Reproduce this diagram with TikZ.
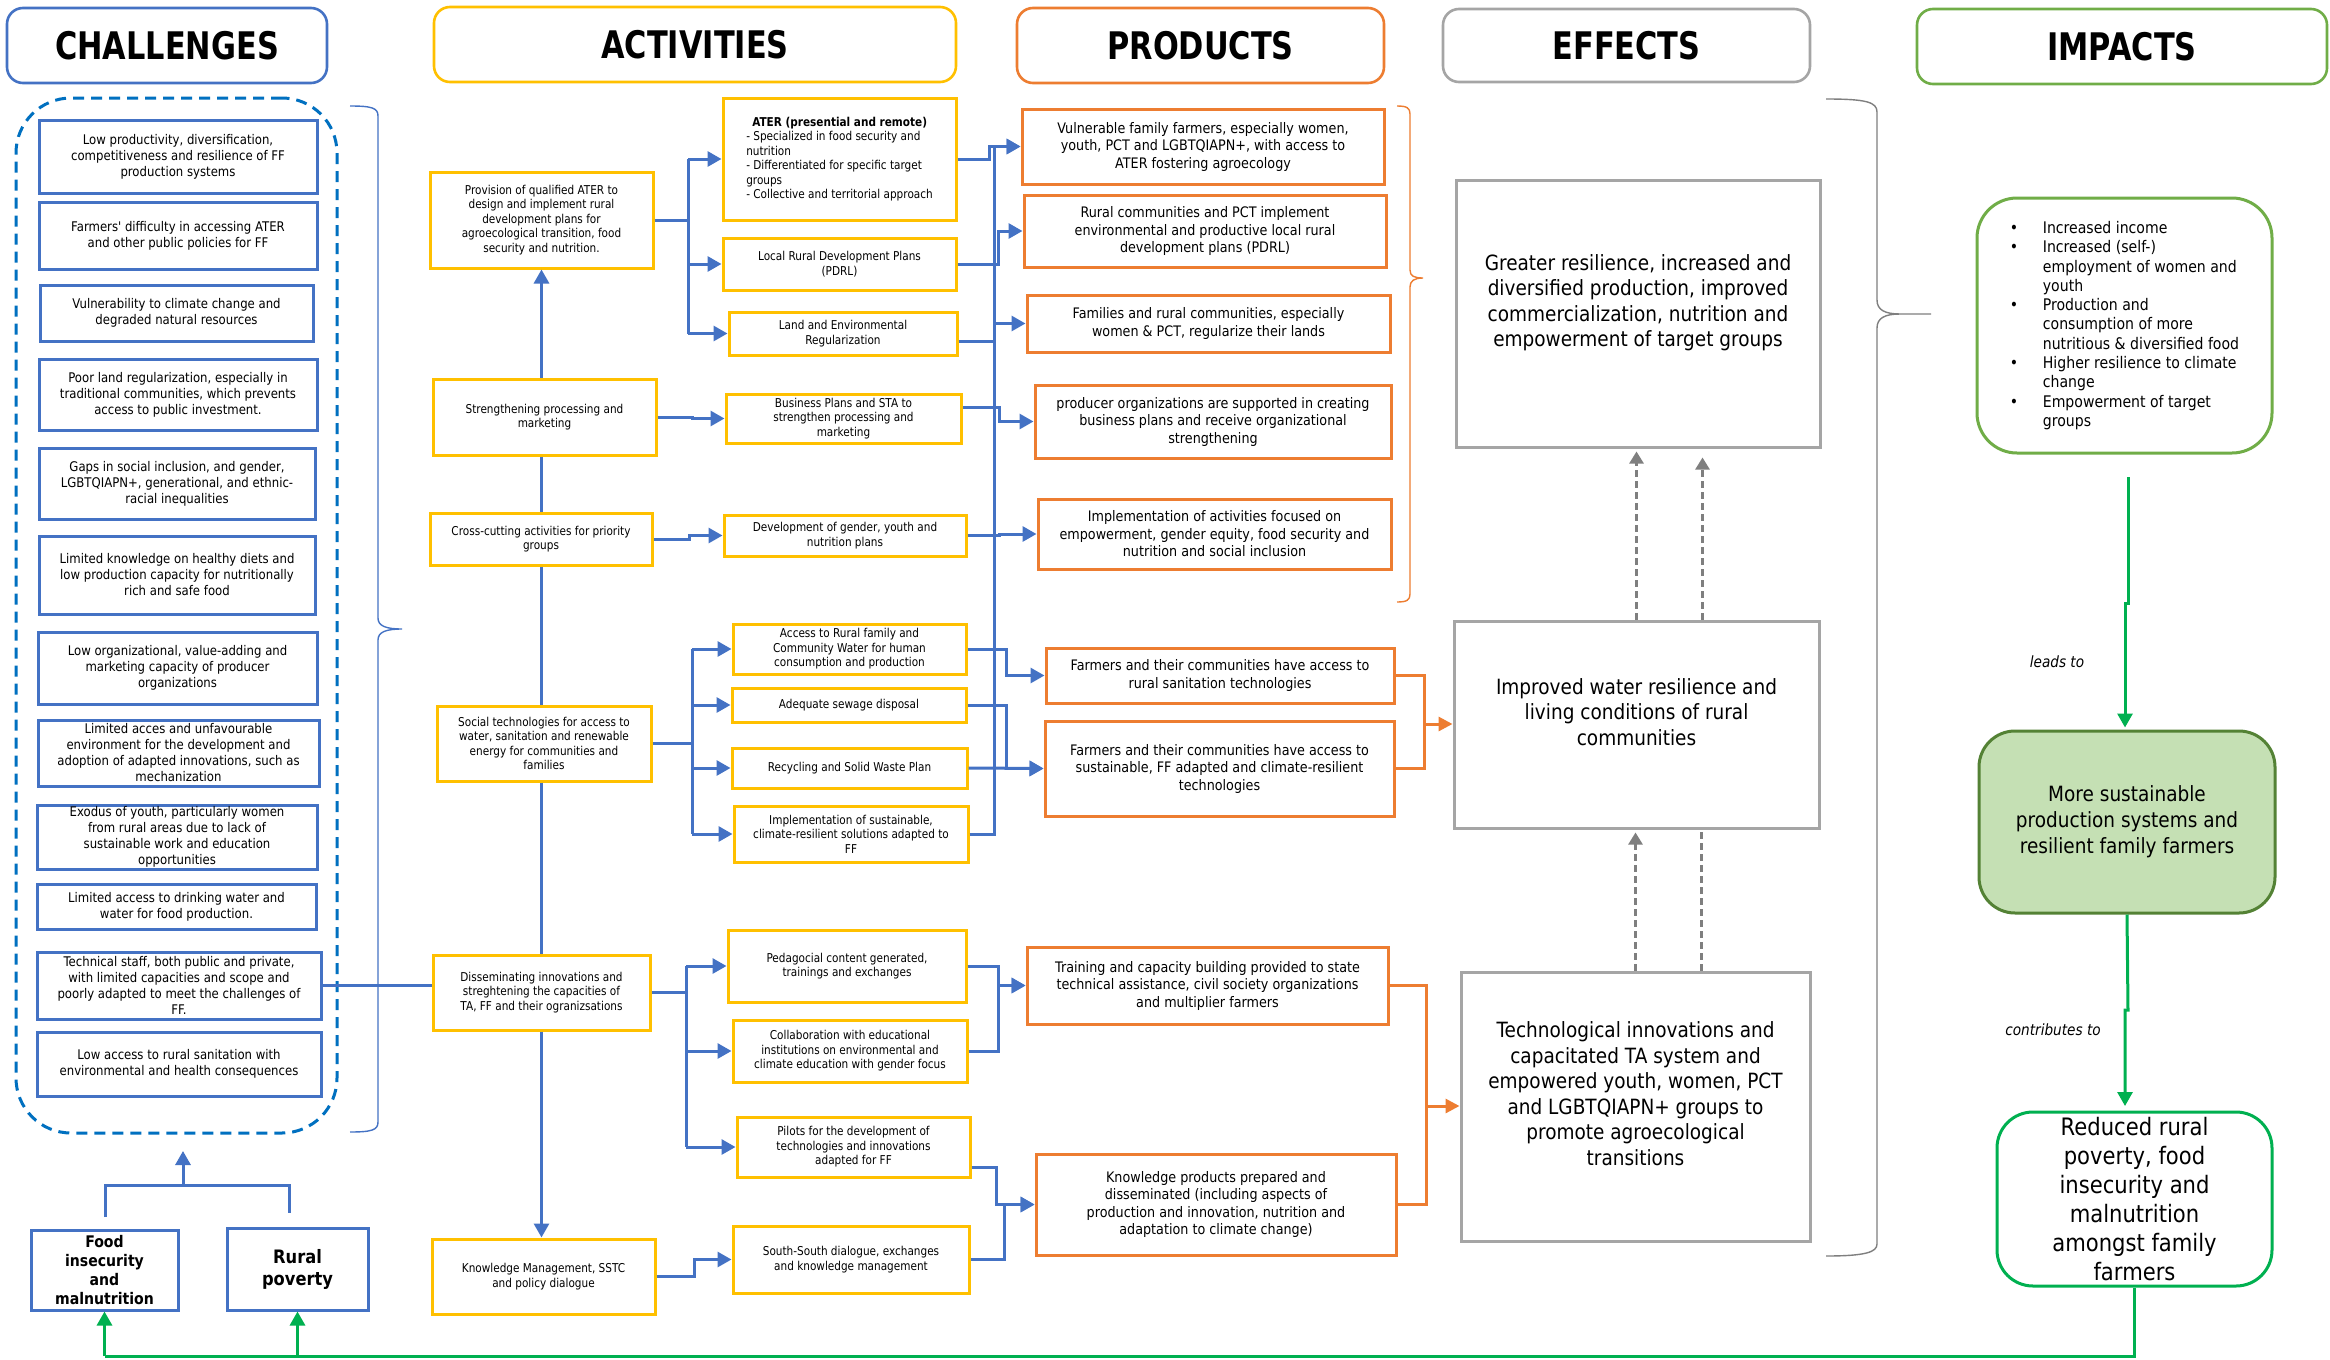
\documentclass[tikz,border=0pt]{standalone}
\usepackage{fontspec}
\usetikzlibrary{arrows.meta,calc}
\newfontfamily\vf[FakeStretch=0.88]{DejaVu Sans}
\newfontfamily\tf[FakeStretch=0.86]{DejaVu Sans}
\newfontfamily\hf[FakeStretch=0.8]{DejaVu Sans}
\definecolor{cblue}{HTML}{4472C4}
\definecolor{cdash}{HTML}{0070C0}
\definecolor{cgold}{HTML}{FFC000}
\definecolor{corange}{HTML}{ED7D31}
\definecolor{cgray}{HTML}{A5A5A5}
\definecolor{cdgray}{HTML}{7F7F7F}
\definecolor{cgreen}{HTML}{00B050}
\definecolor{clgreen}{HTML}{70AD47}
\definecolor{cfill}{HTML}{C5E0B4}
\definecolor{cdgreen}{HTML}{548235}
\newcommand\B[7]{\node[#1,minimum width={#4-#2},minimum height={#5-#3}] (#6) at ({(#2+#4)/2},{(#3+#5)/2}) {#7};}
\tikzset{
  hdr/.style={draw, line width=2.6pt, rounded corners=16pt, inner sep=0pt, font=\hf\bfseries\fontsize{38}{40}\selectfont},
  chal/.style={draw=cblue, line width=3pt, align=center, inner sep=0pt, font=\vf\fontsize{13.3}{16}\selectfont},
  act/.style={draw=cgold, line width=3pt, align=center, inner sep=0pt, font=\tf\fontsize{12.2}{14.5}\selectfont},
  prod/.style={draw=corange, line width=3pt, align=center, inner sep=0pt, font=\vf\fontsize{14.5}{17.5}\selectfont},
  eff/.style={draw=cgray, line width=3pt, align=center, inner sep=0pt, font=\vf\fontsize{21}{25.5}\selectfont},
  bl/.style={draw=cblue, line width=3pt},
  barr/.style={draw=cblue, line width=3pt, -{Triangle[length=14pt,width=15pt]}},
  ol/.style={draw=corange, line width=3pt},
  oarr/.style={draw=corange, line width=3pt, -{Triangle[length=14pt,width=14pt]}},
  gdash/.style={draw=cdgray, line width=2.5pt, dash pattern=on 7pt off 4pt},
  garr/.style={gdash, -{Triangle[length=12pt,width=14pt]}},
  grn/.style={draw=cgreen, line width=3pt},
  grnarr/.style={draw=cgreen, line width=3pt, -{Triangle[length=14pt,width=15pt]}},
  lbl/.style={font=\vf\itshape\fontsize{15.5}{18}\selectfont, inner sep=0pt},
}
\begin{document}
\begin{tikzpicture}[x=1pt,y=-1pt]
\useasboundingbox (0,0) rectangle (2330,1360);
\fill[white] (0,0) rectangle (2330,1360);

% headers
\B{hdr,draw=cblue}{7}{8}{327}{83}{hchal}{CHALLENGES}
\B{hdr,draw=cgold}{434}{7}{956}{82}{hact}{ACTIVITIES}
\B{hdr,draw=corange}{1017}{8}{1384}{83}{hprod}{PRODUCTS}
\B{hdr,draw=cgray}{1443}{9}{1810}{82}{heff}{EFFECTS}
\B{hdr,draw=clgreen}{1917}{9}{2327}{84}{himp}{IMPACTS}

% challenges
\B{draw=cdash, line width=3pt, dash pattern=on 11pt off 7pt, rounded corners=55pt}{16}{98}{337}{1133}{chalgroup}{}
\B{chal}{39}{120}{317}{193}{c1}{Low productivity, diversification,\\competitiveness and resilience of FF\\production systems}
\B{chal}{39}{202}{317}{269}{c2}{Farmers' difficulty in accessing ATER\\and other public policies for FF}
\B{chal}{40}{285}{313}{341}{c3}{Vulnerability to climate change and\\degraded natural resources}
\B{chal}{39}{359}{317}{430}{c4}{Poor land regularization, especially in\\traditional communities, which prevents\\access to public investment.}
\B{chal}{39}{448}{315}{519}{c5}{Gaps in social inclusion, and gender,\\LGBTQIAPN+, generational, and ethnic-\\racial inequalities}
\B{chal}{39}{536}{315}{614}{c6}{Limited knowledge on healthy diets and\\low production capacity for nutritionally\\rich and safe food}
\B{chal}{38}{632}{317}{704}{c7}{Low organizational, value-adding and\\marketing capacity of producer\\organizations}
\B{chal}{38}{720}{319}{786}{c8}{Limited acces and unfavourable\\environment for the development and\\adoption of adapted innovations, such as\\mechanization}
\B{chal}{37}{805}{317}{869}{c9}{Exodus of youth, particularly women\\from rural areas due to lack of\\sustainable work and education\\opportunities}
\B{chal}{37}{884}{316}{929}{c10}{Limited access to drinking water and\\water for food production.}
\B{chal}{37}{952}{321}{1019}{c11}{Technical staff, both public and private,\\with limited capacities and scope and\\poorly adapted to meet the challenges of\\FF.}
\B{chal}{37}{1032}{321}{1096}{c12}{Low access to rural sanitation with\\environmental and health consequences}

\draw[cblue, line width=1.4pt] (350,106) .. controls (372,106) and (378,108) .. (378,116) -- (378,618) .. controls (378,626) and (386,629) .. (402,629) .. controls (386,629) and (378,632) .. (378,640) -- (378,1122) .. controls (378,1130) and (372,1132) .. (350,1132);

\B{chal,font=\vf\bfseries\fontsize{16}{19}\selectfont}{31}{1230}{178}{1310}{food}{Food\\insecurity\\and\\malnutrition}
\B{chal,font=\vf\bfseries\fontsize{18.5}{22}\selectfont}{227}{1228}{368}{1310}{rural}{Rural\\poverty}
\coordinate (bj) at (183,1185);
\draw[bl] (105,1217) -- (105,1185) -- (289,1185) -- (289,1213);
\draw[barr] (bj) -- (183,1151);

% activities
\B{act}{430}{172}{653}{268}{a1}{Provision of qualified ATER to\\design and implement rural\\development plans for\\agroecological transition, food\\security and nutrition.}
\B{act,align=left}{723}{98}{956}{220}{ater}{\hspace*{6pt}\textbf{ATER (presential and remote)}\\- Specialized in food security and\\nutrition\\- Differentiated for specific target\\groups\\- Collective and territorial approach}
\B{act}{723}{238}{956}{290}{pdrl}{Local Rural Development Plans\\(PDRL)}
\B{act}{729}{312}{957}{355}{land}{Land and Environmental\\Regularization}
\B{act}{433}{379}{656}{455}{a2}{Strengthening processing and\\marketing}
\B{act}{726}{394}{961}{443}{bp}{Business Plans and STA to\\strengthen processing and\\marketing}
\B{act}{430}{513}{652}{565}{a3}{Cross-cutting activities for priority\\groups}
\B{act}{724}{515}{966}{556}{gender}{Development of gender, youth and\\nutrition plans}
\B{act}{437}{706}{651}{781}{a4}{Social technologies for access to\\water, sanitation and renewable\\energy for communities and\\families}
\B{act}{733}{624}{966}{674}{water}{Access to Rural family and\\Community Water for human\\consumption and production}
\B{act}{732}{688}{966}{722}{sewage}{Adequate sewage disposal}
\B{act}{732}{748}{967}{788}{recyc}{Recycling and Solid Waste Plan}
\B{act}{734}{806}{968}{862}{impl}{Implementation of sustainable,\\climate-resilient solutions adapted to\\FF}
\B{act}{433}{955}{650}{1030}{a5}{Disseminating innovations and\\streghtening the capacities of\\TA, FF and their ogranizsations}
\B{act}{728}{930}{966}{1002}{ped}{Pedagocial content generated,\\trainings and exchanges}
\B{act}{733}{1020}{967}{1082}{collab}{Collaboration with educational\\institutions on environmental and\\climate education with gender focus}
\B{act}{737}{1117}{970}{1177}{pilots}{Pilots for the development of\\technologies and innovations\\adapted for FF}
\B{act}{432}{1239}{655}{1314}{a6}{Knowledge Management, SSTC\\and policy dialogue}
\B{act}{733}{1226}{969}{1293}{ss}{South-South dialogue, exchanges\\and knowledge management}

% spine
\draw[barr] (a1.south |- a2.north) -- (a1.south);
\draw[bl] (a1.south |- a2.south) -- (a1.south |- a3.north);
\draw[bl] (a1.south |- a3.south) -- (a1.south |- a4.north);
\draw[bl] (a1.south |- a4.south) -- (a1.south |- a5.north);
\draw[barr] (a5.south) -- (a5.south |- a6.north);
\draw[bl] (c11.east) -- (c11.east -| a5.west);

% forks
\coordinate (k1) at (688,220);
\draw[bl] (a1.east) -- (k1);
\draw[bl] (k1 |- ater.west) -- (k1 |- land.west);
\draw[barr] (k1 |- ater.west) -- (ater.west);
\draw[barr] (k1 |- pdrl.west) -- (pdrl.west);
\draw[barr] (k1 |- land.west) -- (land.west);
\draw[barr] (a2.east) -- ++(35,0) |- (bp.west);
\draw[barr] (a3.east) -- ++(36,0) |- (gender.west);
\coordinate (k2) at (692,743.5);
\draw[bl] (a4.east) -- (k2);
\draw[bl] (k2 |- water.west) -- (k2 |- impl.west);
\draw[barr] (k2 |- water.west) -- (water.west);
\draw[barr] (k2 |- sewage.west) -- (sewage.west);
\draw[barr] (k2 |- recyc.west) -- (recyc.west);
\draw[barr] (k2 |- impl.west) -- (impl.west);
\coordinate (k3) at (686,992.5);
\draw[bl] (a5.east) -- (k3);
\draw[bl] (k3 |- ped.west) -- (k3 |- pilots.west);
\draw[barr] (k3 |- ped.west) -- (ped.west);
\draw[barr] (k3 |- collab.west) -- (collab.west);
\draw[barr] (k3 |- pilots.west) -- (pilots.west);
\draw[barr] (a6.east) -- ++(38,0) |- (ss.west);

% products
\B{prod}{1022}{109}{1384}{184}{p1}{Vulnerable family farmers, especially women,\\youth, PCT and LGBTQIAPN+, with access to\\ATER fostering agroecology}
\B{prod}{1024}{195}{1386}{267}{p2}{Rural communities and PCT implement\\environmental and productive local rural\\development plans (PDRL)}
\B{prod}{1027}{295}{1390}{352}{p3}{Families and rural communities, especially\\women \& PCT, regularize their lands}
\B{prod}{1035}{385}{1391}{458}{p4}{producer organizations are supported in creating\\business plans and receive organizational\\strengthening}
\B{prod}{1038}{499}{1391}{569}{p5}{Implementation of activities focused on\\empowerment, gender equity, food security and\\nutrition and social inclusion}
\B{prod}{1046}{648}{1394}{703}{p6}{Farmers and their communities have access to\\rural sanitation technologies}
\B{prod}{1045}{721}{1394}{816}{p7}{Farmers and their communities have access to\\sustainable, FF adapted and climate-resilient\\technologies}
\B{prod}{1027}{947}{1388}{1024}{p8}{Training and capacity building provided to state\\technical assistance, civil society organizations\\and multiplier farmers}
\B{prod}{1036}{1154}{1396}{1255}{p9}{Knowledge products prepared and\\disseminated (including aspects of\\production and innovation, nutrition and\\adaptation to climate change)}

% activity outputs -> products
\draw[barr] (ater.east) -- ++(32,0) |- (p1.west);
\draw[barr] (impl.east) -- ++(25,0) |- (p1.west);
\draw[barr] (pdrl.east) -- ++(41,0) |- (p2.west);
\draw[barr] ($(land.east)+(0,8)$) -- ++(36,0) |- (p3.west);
\draw[barr] ($(bp.east)+(0,-11)$) -- ++(37,0) |- (p4.west);
\draw[barr] (gender.east) -- ++(32,0) |- (p5.west);
\draw[barr] (water.east) -- ++(39,0) |- (p6.west);
\draw[barr] (sewage.east) -- ++(39,0) |- (p7.west);
\draw[barr] (recyc.east) -- (p7.west);
\draw[barr] (ped.east) -- ++(31,0) |- (p8.west);
\draw[barr] (collab.east) -- ++(30,0) |- (p8.west);
\draw[barr] ($(pilots.east)+(0,20)$) -- ++(25,0) |- (p9.west);
\draw[barr] (ss.east) -- ++(34,0) |- (p9.west);

\draw[corange, line width=1.4pt] (1397,106) .. controls (1407,106) and (1410,108) .. (1410,114) -- (1410,270) .. controls (1410,276) and (1414,278) .. (1423,278) .. controls (1414,278) and (1410,281) .. (1410,287) -- (1410,594) .. controls (1410,600) and (1407,602) .. (1397,602);

% effects
\B{eff}{1456}{180}{1820}{447}{e1}{Greater resilience, increased and\\diversified production, improved\\commercialization, nutrition and\\empowerment of target groups\\[0pt]\mbox{}}
\B{eff}{1454}{621}{1819}{828}{e2}{Improved water resilience and\\living conditions of rural\\communities\\[0pt]\mbox{}}
\B{eff}{1461}{972}{1810}{1241}{e3}{Technological innovations and\\capacitated TA system and\\empowered youth, women, PCT\\and LGBTQIAPN+ groups to\\promote agroecological\\transitions\\[0pt]\mbox{}}

\coordinate (oj1) at (1424,724);
\draw[ol] (p6.east) -| (oj1);
\draw[ol] (p7.east) -| (oj1);
\draw[oarr] (oj1) -- (e2.west |- oj1);
\coordinate (oj2) at (1426,1106);
\draw[ol] (p8.east) -| (oj2);
\draw[ol] (p9.east) -| (oj2);
\draw[oarr] (oj2) -- (e3.west |- oj2);

\coordinate (d1) at ($(e2.north)+(66,0)$);
\coordinate (d2) at ($(e3.north)+(66,0)$);
\draw[garr, shorten >=3pt] (e2.north) -- (e2.north |- e1.south);
\draw[garr, shorten >=9pt] (d1) -- (d1 |- e1.south);
\draw[garr, shorten >=3pt] (e3.north) -- (e3.north |- e2.south);
\draw[gdash] (d2) -- (d2 |- e2.south);

\draw[cdgray, line width=1.4pt] (1826,99) .. controls (1866,99) and (1877,102) .. (1877,112) -- (1877,300) .. controls (1877,310) and (1885,314) .. (1900,314) -- (1931,314) (1900,314) .. controls (1885,314) and (1877,318) .. (1877,328) -- (1877,1244) .. controls (1877,1252) and (1866,1256) .. (1826,1256);

% impacts
\B{draw=clgreen, line width=3pt, rounded corners=40pt, align=left, inner sep=0pt, font=\vf\fontsize{16}{19.3}\selectfont}{1977}{198}{2272}{453}{impbox}{\makebox[33pt][l]{•}Increased income\\\makebox[33pt][l]{•}Increased (self-)\\\hspace*{33pt}employment of women and\\\hspace*{33pt}youth\\\makebox[33pt][l]{•}Production and\\\hspace*{33pt}consumption of more\\\hspace*{33pt}nutritious \& diversified food\\\makebox[33pt][l]{•}Higher resilience to climate\\\hspace*{33pt}change\\\makebox[33pt][l]{•}Empowerment of target\\\hspace*{33pt}groups}
\B{draw=cdgreen, fill=cfill, line width=3pt, rounded corners=36pt, align=center, inner sep=0pt, font=\vf\fontsize{21}{26}\selectfont}{1979}{731}{2275}{913}{moresust}{More sustainable\\production systems and\\resilient family farmers}
\B{draw=cgreen, line width=3pt, rounded corners=36pt, align=center, inner sep=0pt, font=\vf\fontsize{24}{29}\selectfont}{1997}{1112}{2272}{1286}{reduced}{Reduced rural\\poverty, food\\insecurity and\\malnutrition\\amongst family\\farmers}

\coordinate (g1) at (2128,477);
\draw[grnarr] (g1) -- (2128,603) -- (2125,603) -- ($(moresust.north)+(-2,-2)$);
\node[lbl] (leadsto) at (2057,662) {leads to};
\draw[grnarr] (moresust.south) -- (2128,1010) -- (2125,1010) -- (2125,1106);
\node[lbl] (contrib) at (2053,1030) {contributes to};
\coordinate (gb) at (2134,1356);
\draw[grn] (reduced.south) -- (reduced.south |- gb) -- (food.south |- gb);
\draw[grnarr] (rural.south |- gb) -- (rural.south);
\draw[grnarr] (food.south |- gb) -- (food.south);
\end{tikzpicture}
\end{document}
